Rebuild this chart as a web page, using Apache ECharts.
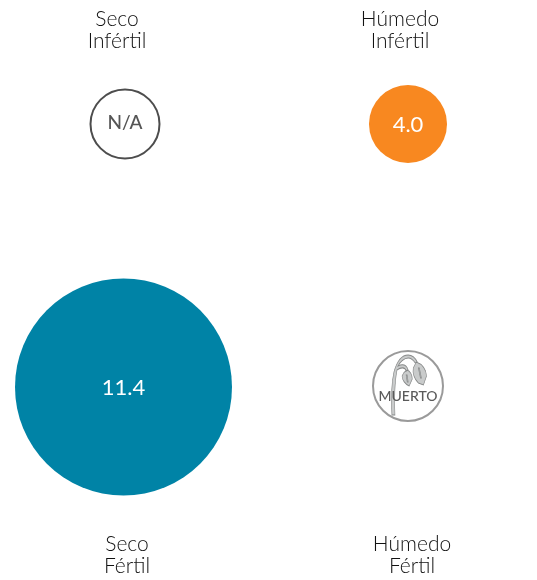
<!DOCTYPE html>
<html><head><meta charset="utf-8">
<style>html,body{margin:0;padding:0;background:#fff}#c{width:537px;height:580px}</style>
<script src="https://cdn.jsdelivr.net/npm/echarts@6/dist/echarts.min.js"></script>
</head><body><div id="c"></div>
<script>
const moisture = ['Seco', 'Húmedo'];
const fertility = ['Infértil', 'Fértil'];
// [moisture index, fertility index, value]
const measured = [[0, 1, 11.4], [1, 0, 4.0]];
const notAvailable = [[0, 0, 'N/A']];
const dead = [[1, 1, 'MUERTO']];

const FONT = 'Lato, "Open Sans", sans-serif';
const plantPath = 'path://M20 64 C19 45 20 30 22 21 C25 10 30 4 36 4 C40 4 43 7 45 11 L43 12 C41 9 39 7 36 7 C32 7 28 11 26 15 C30 13 34 13 36 19 L34 20 C33 16 29 16 25 19 C23 30 22 48 23 64 Z '
  + 'M44 11 C50 13 54 19 54 25 L51 34 L46 32 C42 28 40 22 41 17 Z M47 17 L49 27 L48 27 L46 17 Z '
  + 'M35 19 C38 20 40 24 40 28 L37 35 C33 33 30 29 30 25 C31 22 33 20 35 19 Z M35 24 L36 31 L35 31 L34 24 Z';

const chart = echarts.init(document.getElementById('c'), null, {renderer: 'canvas'});
function head(text, left, top) {
  return {text, left, top, textAlign: 'center',
    textStyle: {fontFamily: FONT, fontSize: 21, fontWeight: 300, color: '#111', lineHeight: 22, letterSpacing: 1}};
}
chart.setOption({
  animation: false,
  backgroundColor: '#fff',
  title: [
    head(moisture[0] + '\n' + fertility[0], 112, 3),
    head(moisture[1] + '\n' + fertility[0], 395, 3),
    head(moisture[0] + '\n' + fertility[1], 122, 528),
    head(moisture[1] + '\n' + fertility[1], 407, 528)
  ],
  grid: {left: 124, top: 124, width: 284, height: 262},
  xAxis: {type: 'category', data: moisture, boundaryGap: false, show: false},
  yAxis: {type: 'category', data: fertility, boundaryGap: false, inverse: true, show: false},
  series: [
    {
      type: 'scatter', data: measured, clip: false,
      symbol: 'circle',
      symbolSize: d => 18.78 * d[2] + 2.9,
      symbolOffset: d => d[1] === 1 ? [-0.5, 1] : [0, 0],
      itemStyle: {opacity: 1, color: p => p.data[0] === 0 ? '#0083A6' : '#F88820'},
      label: {show: true, position: 'inside', offset: [0, 1], formatter: p => p.data[2].toFixed(1),
        fontFamily: FONT, fontSize: 22, color: '#fff', letterSpacing: 1.6}
    },
    {
      type: 'scatter', data: notAvailable, clip: false,
      symbol: 'circle', symbolSize: 69, symbolOffset: [1, 0],
      itemStyle: {opacity: 1, color: '#fff', borderColor: '#4d4d4d', borderWidth: 2},
      label: {show: true, position: 'inside', offset: [0, -1], formatter: p => p.data[2],
        fontFamily: FONT, fontSize: 19, fontWeight: 500, color: '#555', letterSpacing: 1.2}
    },
    {
      type: 'scatter', data: dead, clip: false, z: 2,
      symbol: 'circle', symbolSize: 70,
      itemStyle: {opacity: 1, color: '#fff', borderColor: '#9a9a9a', borderWidth: 2}
    },
    {
      type: 'scatter', data: dead, clip: false, z: 3,
      symbol: plantPath, symbolSize: [35, 60], symbolOffset: [1, -1],
      itemStyle: {opacity: 1, color: '#c9cbcb', borderColor: '#858787', borderWidth: 0.8},
      label: {show: true, position: 'inside', offset: [-1, 11], formatter: p => p.data[2],
        fontFamily: FONT, fontSize: 14, fontWeight: 500, color: '#5a5a5a', letterSpacing: 0.3}
    }
  ]
});
</script></body></html>
